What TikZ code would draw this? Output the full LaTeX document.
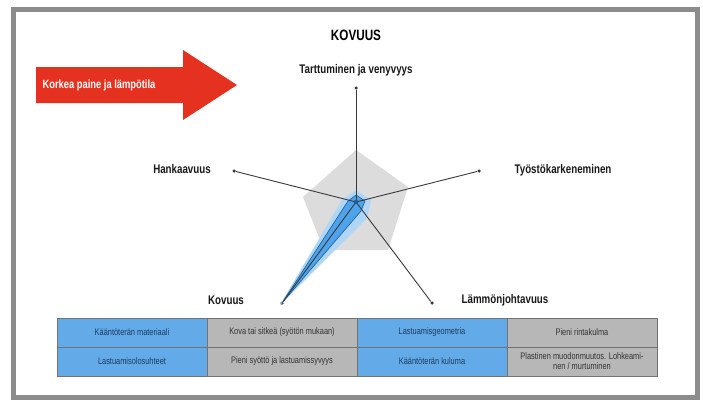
\documentclass[tikz,border=0pt]{standalone}
\usepackage{fontspec}
\setmainfont{Liberation Sans}[FakeStretch=0.78]
\usetikzlibrary{positioning}

\definecolor{framegray}{HTML}{8C8C8C}
\definecolor{arrowred}{HTML}{E5311F}
\definecolor{pentagray}{HTML}{DCDCDC}
\definecolor{spikeblue}{HTML}{4EA3EA}
\definecolor{spikeedge}{HTML}{1F5C99}
\definecolor{cellblue}{HTML}{62ABE8}
\definecolor{cellgray}{HTML}{B7B7B7}
\definecolor{bluetext}{HTML}{1F3A5F}
\definecolor{graytext}{HTML}{333333}
\definecolor{axisline}{HTML}{3A3A3A}

\tikzset{
  axislabel/.style={font=\bfseries\fontsize{12.5}{14}\selectfont, text=black!90},
  axisend/.style={fill=axisline, circle, inner sep=0pt, minimum size=3.5pt},
  tcell/.style={draw=black!55, minimum width=150pt, minimum height=29pt,
    inner sep=1pt, align=center, font=\fontsize{9.5}{10}\selectfont},
  bluecell/.style={tcell, fill=cellblue, text=bluetext},
  graycell/.style={tcell, fill=cellgray, text=graytext}
}

\begin{document}
\begin{tikzpicture}[x=1pt, y=-1pt]
  \useasboundingbox (0,0) rectangle (703,399);
  \fill[white] (0,0) rectangle (703,399);
  % frame
  \draw[framegray, line width=5.5pt] (13.5,9.5) rectangle (697.5,397.5);

  % title
  \node[font=\bfseries\fontsize{15}{17}\selectfont] (title) at (356,35) {KOVUUS};

  % red arrow
  \fill[arrowred] (36,67) -- (183,67) -- (183,50) -- (237,85) -- (183,120)
    -- (183,103) -- (36,103) -- cycle;
  \node[anchor=west, text=white, font=\bfseries\fontsize{12}{14}\selectfont]
    (press) at (39,85) {Korkea paine ja lämpötila};

  % background pentagon
  \fill[pentagray] (356,150) -- (408,187) -- (388,250) -- (324,250)
    -- (303,197) -- cycle;

  % axes
  \coordinate (c) at (356,202);
  \node[axisend] (eTop) at (356,88) {};
  \node[axisend] (eLeft) at (234,171) {};
  \node[axisend] (eRight) at (479,171) {};
  \node[axisend] (eBL) at (282,303) {};
  \node[axisend] (eBR) at (432,303) {};

  % blue spike
  \fill[spikeblue!45] (356,190) -- (371,200) -- (367,218) -- (280,305)
    -- (342,200) -- cycle;
  \filldraw[fill=spikeblue, draw=spikeedge, line width=0.6pt]
    (356,195) -- (365,201) -- (361,211) -- (282,303) -- (348,201) -- cycle;

  \foreach \e in {eTop,eLeft,eRight,eBL,eBR} {
    \draw[axisline, line width=0.9pt] (c) -- (\e);
  }
  \fill[spikeedge] (c) circle (2.2pt);

  % labels
  \node[axislabel] (lTart) at (356,70) {Tarttuminen ja venyvyys};
  \node[axislabel] (lHank) at (182,169) {Hankaavuus};
  \node[axislabel] (lTyo) at (563,170) {Työstökarkeneminen};
  \node[axislabel] (lKov) at (226,300) {Kovuus};
  \node[axislabel] (lLam) at (505,300) {Lämmönjohtavuus};

  % table
  \node[bluecell] (t11) at (132,332.5) {Kääntöterän materiaali};
  \node[graycell] (t12) at (282,332.5) {Kova tai sitkeä (syötön mukaan)};
  \node[bluecell] (t13) at (432,332.5) {Lastuamisgeometria};
  \node[graycell] (t14) at (582,332.5) {Pieni rintakulma};
  \node[bluecell] (t21) at (132,361.5) {Lastuamisolosuhteet};
  \node[graycell] (t22) at (282,361.5) {Pieni syöttö ja lastuamissyvyys};
  \node[bluecell] (t23) at (432,361.5) {Kääntöterän kuluma};
  \node[graycell] (t24) at (582,361.5) {Plastinen muodonmuutos. Lohkeami-\\nen / murtuminen};
\end{tikzpicture}
\end{document}
